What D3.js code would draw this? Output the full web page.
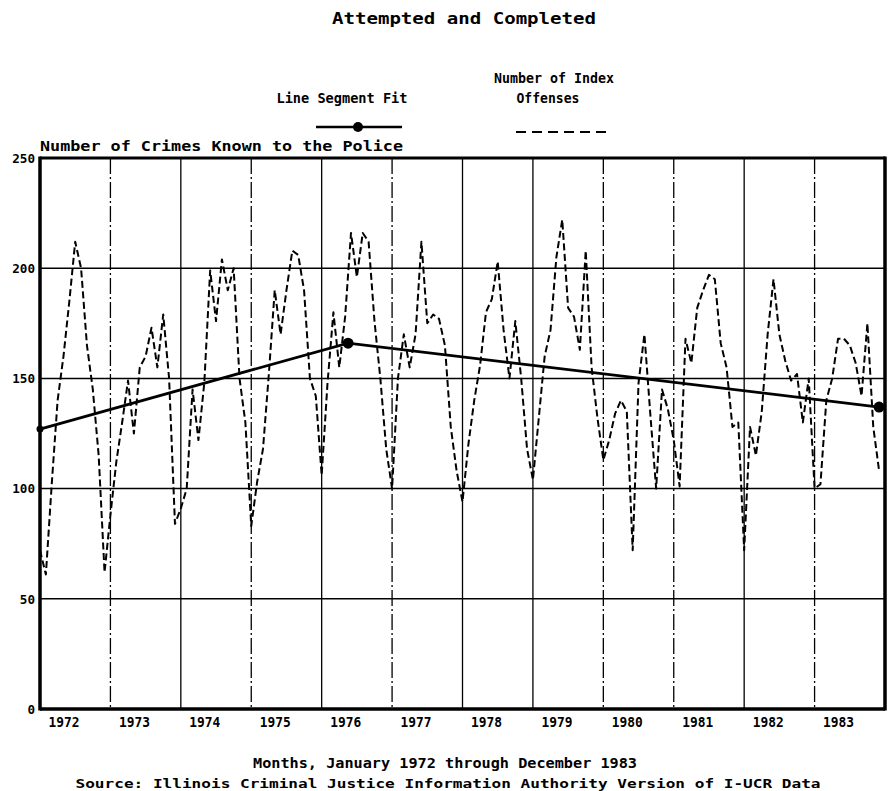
<!DOCTYPE html>
<html>
<head>
<meta charset="utf-8">
<script src="https://cdn.jsdelivr.net/npm/d3@7"></script>
<style>
  html, body { margin: 0; padding: 0; background: #fff; overflow: hidden; }
  svg { display: block; }
  text { font-family: "DejaVu Sans Mono", "Liberation Mono", monospace; font-weight: bold; fill: #000; }
</style>
</head>
<body>
<script>
// ---- data ----
const years = [1972,1973,1974,1975,1976,1977,1978,1979,1980,1981,1982,1983];
const yTicks = [0, 50, 100, 150, 200, 250];
const gridValues = [50, 100, 150, 200];
// monthly number of index offenses, Jan 1972 .. Dec 1983
const offenses = [
  72, 61, 102, 140, 160, 185, 212, 200, 165, 145, 115, 62,
  88, 112, 130, 149, 125, 155, 160, 173, 155, 179, 150, 84,
  91, 100, 145, 122, 148, 199, 176, 204, 190, 200, 150, 130,
  83, 103, 118, 152, 190, 170, 190, 208, 206, 190, 150, 142,
  106, 148, 180, 155, 178, 216, 196, 216, 212, 176, 150, 118,
  100, 150, 170, 155, 170, 212, 175, 179, 177, 165, 128, 108,
  94, 120, 140, 156, 180, 186, 203, 172, 150, 176, 150, 118,
  104, 132, 160, 172, 205, 222, 182, 178, 163, 208, 155, 132,
  113, 122, 134, 140, 135, 72, 148, 170, 134, 100, 145, 136,
  122, 101, 168, 157, 182, 190, 197, 195, 166, 155, 128, 130,
  72, 128, 115, 135, 170, 195, 170, 158, 149, 152, 130, 150,
  100, 102, 140, 150, 168, 168, 165, 157, 142, 175, 128, 108
];
const fitMonths = [0, 52.5, 143];
const fitValues = [127, 166, 137];

// ---- layout ----
const W = 896, H = 791;
const L = 40, R = 885, T = 158, B = 709;

const svg = d3.select("body").append("svg").attr("width", W).attr("height", H);

const x = d3.scaleLinear().domain([0, 144]).range([L, R]);
const y = d3.scaleLinear().domain([0, 250]).range([B, T]);

function label(txt, cx, by, size, len) {
  const t = svg.append("text").attr("x", cx).attr("y", by).attr("text-anchor", "middle")
    .style("font-size", size + "px").text(txt);
  if (len) t.attr("textLength", len).attr("lengthAdjust", "spacingAndGlyphs");
  return t;
}
label("Attempted and Completed", 464, 24, 16, 264);
label("Number of Index", 554, 83, 13.5, 120);
label("Line Segment Fit", 342, 103, 13.5, 131);
label("Offenses", 548, 103, 13.5, 63);

// legend symbols
svg.append("line").attr("x1", 316).attr("x2", 402).attr("y1", 127).attr("y2", 127)
  .attr("stroke", "#000").attr("stroke-width", 2.5);
svg.append("circle").attr("cx", 358).attr("cy", 127).attr("r", 5).attr("fill", "#000");
svg.append("line").attr("x1", 516).attr("x2", 610).attr("y1", 132).attr("y2", 132)
  .attr("stroke", "#000").attr("stroke-width", 2).attr("stroke-dasharray", "10,6");

// y axis title
svg.append("text").attr("x", L).attr("y", 151).style("font-size", "13.5px")
  .attr("textLength", 363).attr("lengthAdjust", "spacingAndGlyphs")
  .text("Number of Crimes Known to the Police");

// horizontal grid
svg.append("g").selectAll("line").data(gridValues).join("line")
  .attr("x1", L).attr("x2", R).attr("y1", d => y(d)).attr("y2", d => y(d))
  .attr("stroke", "#000").attr("stroke-width", 1.5);

// vertical grid (year boundaries)
const dashDot = new Set([1973, 1975, 1977, 1980, 1981, 1983]);
svg.append("g").selectAll("line").data(years.slice(1)).join("line")
  .attr("x1", d => x((d - 1972) * 12)).attr("x2", d => x((d - 1972) * 12))
  .attr("y1", T).attr("y2", B)
  .attr("stroke", "#000").attr("stroke-width", 1.3)
  .attr("stroke-dasharray", d => dashDot.has(d) ? "16,3,2,3" : null);

// y tick labels
const yAxis = d3.axisLeft(y).tickValues(yTicks).tickSize(0).tickPadding(5);
const gy = svg.append("g").attr("transform", `translate(${L},0)`).call(yAxis);
gy.select(".domain").remove();
gy.selectAll("text").style("font-size", "12.5px").style("font-family", null).attr("dy", "0.35em")
  .attr("textLength", d => String(d).length * 7.6).attr("lengthAdjust", "spacingAndGlyphs");

// x axis year labels
const xAxis = d3.axisBottom(x).tickValues(years.map((d, i) => i * 12 + 4))
  .tickFormat((d, i) => years[i]).tickSize(0).tickPadding(8);
const gx = svg.append("g").attr("transform", `translate(0,${B})`).call(xAxis);
gx.select(".domain").remove();
gx.selectAll("text").style("font-size", "13.5px").style("font-family", null)
  .attr("textLength", 31).attr("lengthAdjust", "spacingAndGlyphs");

// dashed series
const line = d3.line().x((d, i) => x(i)).y(d => y(d));
svg.append("path").datum(offenses).attr("d", line)
  .attr("fill", "none").attr("stroke", "#000").attr("stroke-width", 2)
  .attr("stroke-dasharray", "7,3.5").attr("stroke-linejoin", "round");

// line segment fit
const fit = fitMonths.map((m, i) => [m, fitValues[i]]);
const fitLine = d3.line().x(d => x(d[0])).y(d => y(d[1]));
svg.append("path").datum(fit).attr("d", fitLine)
  .attr("fill", "none").attr("stroke", "#000").attr("stroke-width", 2.8);
svg.append("g").selectAll("circle").data(fit).join("circle")
  .attr("cx", d => x(d[0])).attr("cy", d => y(d[1]))
  .attr("r", (d, i) => i === 0 ? 3.5 : 5.5).attr("fill", "#000");

// frame
svg.append("line").attr("x1", L).attr("x2", R).attr("y1", T).attr("y2", T).attr("stroke", "#000").attr("stroke-width", 3);
svg.append("line").attr("x1", L).attr("x2", R).attr("y1", B).attr("y2", B).attr("stroke", "#000").attr("stroke-width", 3.5);
svg.append("line").attr("x1", L).attr("x2", L).attr("y1", T - 1.5).attr("y2", B + 1.5).attr("stroke", "#000").attr("stroke-width", 3.5);
svg.append("line").attr("x1", R).attr("x2", R).attr("y1", T - 1.5).attr("y2", B + 1.5).attr("stroke", "#000").attr("stroke-width", 3.5);

// bottom texts
label("Months, January 1972 through December 1983", 445, 768, 13.5, 384);
label("Source: Illinois Criminal Justice Information Authority Version of I-UCR Data", 448, 788, 12.5, 745);
</script>
</body>
</html>
